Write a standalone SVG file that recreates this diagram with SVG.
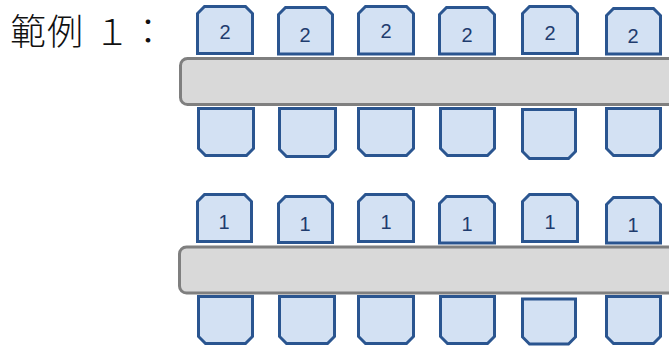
<svg xmlns="http://www.w3.org/2000/svg" width="669" height="347" viewBox="0 0 669 347">
<style>
.chair{fill:#d3e1f3;stroke:#2a5590;stroke-width:3;stroke-linejoin:miter}
.table{fill:#d9d9d9;stroke:#7f7f7f;stroke-width:3}
.num{font-family:"Liberation Sans",Arial,sans-serif;font-size:20px;fill:#1f3c6e;text-anchor:middle}
.title{font-family:"Noto Sans CJK TC","Noto Sans CJK SC",sans-serif;font-size:36px;fill:#111;font-weight:300}
</style>
<rect width="669" height="347" fill="#fff"/>
<text class="title" x="10 47 94 130" y="45">範例１：</text>
<g id="table1-set">
<g id="t1-top-1"><path class="chair" d="M197.5,53.5 L197.5,13.5 L204.5,6.5 L245.5,6.5 L252.5,13.5 L252.5,53.5 Z"/><text class="num" x="225" y="39">2</text></g>
<g id="t1-top-2"><path class="chair" d="M278.5,54 L278.5,14.5 L285.5,7.5 L325.5,7.5 L332.5,14.5 L332.5,54 Z"/><text class="num" x="305" y="42">2</text></g>
<g id="t1-top-3"><path class="chair" d="M358.5,54 L358.5,13.5 L365.5,6.5 L406.5,6.5 L413.5,13.5 L413.5,54 Z"/><text class="num" x="386" y="38">2</text></g>
<g id="t1-top-4"><path class="chair" d="M439.5,54 L439.5,14.5 L446.5,7.5 L487.5,7.5 L494.5,14.5 L494.5,54 Z"/><text class="num" x="467" y="42">2</text></g>
<g id="t1-top-5"><path class="chair" d="M522.5,53.5 L522.5,13.5 L529.5,6.5 L570.5,6.5 L577.5,13.5 L577.5,53.5 Z"/><text class="num" x="550" y="40">2</text></g>
<g id="t1-top-6"><path class="chair" d="M606.5,54 L606.5,15.5 L613.5,8.5 L653.5,8.5 L660.5,15.5 L660.5,54 Z"/><text class="num" x="633" y="43">2</text></g>
<g id="t1-bot-1"><path class="chair" d="M198.5,108.5 L253.5,108.5 L253.5,148.5 L246.5,155.5 L205.5,155.5 L198.5,148.5 Z"/></g>
<g id="t1-bot-2"><path class="chair" d="M279.5,108.5 L335.5,108.5 L335.5,149.5 L328.5,156.5 L286.5,156.5 L279.5,149.5 Z"/></g>
<g id="t1-bot-3"><path class="chair" d="M358.5,108.5 L413.5,108.5 L413.5,148.5 L406.5,155.5 L365.5,155.5 L358.5,148.5 Z"/></g>
<g id="t1-bot-4"><path class="chair" d="M440.5,108.5 L494.5,108.5 L494.5,148.5 L487.5,155.5 L447.5,155.5 L440.5,148.5 Z"/></g>
<g id="t1-bot-5"><path class="chair" d="M522.5,109.5 L575.5,109.5 L575.5,151.5 L568.5,158.5 L529.5,158.5 L522.5,151.5 Z"/></g>
<g id="t1-bot-6"><path class="chair" d="M606.5,108.5 L660.5,108.5 L660.5,148.5 L653.5,155.5 L613.5,155.5 L606.5,148.5 Z"/></g>
<g id="table1"><rect class="table" x="180.5" y="58.5" width="600" height="46" rx="7"/></g>
</g>
<g id="table2-set">
<g id="t2-top-1"><path class="chair" d="M197.5,241.5 L197.5,201.5 L204.5,194.5 L244.5,194.5 L251.5,201.5 L251.5,241.5 Z"/><text class="num" x="224" y="229">1</text></g>
<g id="t2-top-2"><path class="chair" d="M278.5,242.5 L278.5,203.5 L285.5,196.5 L325.5,196.5 L332.5,203.5 L332.5,242.5 Z"/><text class="num" x="305" y="231">1</text></g>
<g id="t2-top-3"><path class="chair" d="M358.5,241.5 L358.5,201.5 L365.5,194.5 L406.5,194.5 L413.5,201.5 L413.5,241.5 Z"/><text class="num" x="386" y="229">1</text></g>
<g id="t2-top-4"><path class="chair" d="M439.5,243 L439.5,203.5 L446.5,196.5 L487.5,196.5 L494.5,203.5 L494.5,243 Z"/><text class="num" x="467" y="231">1</text></g>
<g id="t2-top-5"><path class="chair" d="M522.5,241.5 L522.5,201.5 L529.5,194.5 L570.5,194.5 L577.5,201.5 L577.5,241.5 Z"/><text class="num" x="550" y="229">1</text></g>
<g id="t2-top-6"><path class="chair" d="M606.5,243 L606.5,204.5 L613.5,197.5 L653.5,197.5 L660.5,204.5 L660.5,243 Z"/><text class="num" x="633" y="232">1</text></g>
<g id="t2-bot-1"><path class="chair" d="M198.5,296.5 L252.5,296.5 L252.5,336.5 L245.5,343.5 L205.5,343.5 L198.5,336.5 Z"/></g>
<g id="t2-bot-2"><path class="chair" d="M279.5,296.5 L334.5,296.5 L334.5,336.5 L327.5,343.5 L286.5,343.5 L279.5,336.5 Z"/></g>
<g id="t2-bot-3"><path class="chair" d="M358.5,296.5 L413.5,296.5 L413.5,336.5 L406.5,343.5 L365.5,343.5 L358.5,336.5 Z"/></g>
<g id="t2-bot-4"><path class="chair" d="M440.5,296.5 L494.5,296.5 L494.5,336.5 L487.5,343.5 L447.5,343.5 L440.5,336.5 Z"/></g>
<g id="t2-bot-5"><path class="chair" d="M522.5,299 L575.5,299 L575.5,337 L568.5,344 L529.5,344 L522.5,337 Z"/></g>
<g id="t2-bot-6"><path class="chair" d="M606.5,296.5 L660.5,296.5 L660.5,336.5 L653.5,343.5 L613.5,343.5 L606.5,336.5 Z"/></g>
<g id="table2"><rect class="table" x="179.5" y="247" width="600" height="46" rx="7"/></g>
</g>
<g id="connectors"/>
</svg>
